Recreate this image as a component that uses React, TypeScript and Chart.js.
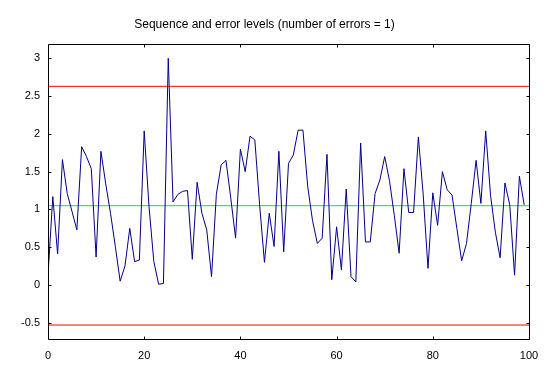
import React, { useEffect, useRef } from "react";
import { Chart, registerables } from "chart.js";

Chart.register(...registerables);

const TITLE = "Sequence and error levels (number of errors = 1)";

const SEQUENCE_VALUES = [
  0.13, 1.17, 0.41, 1.66, 1.21, 0.97, 0.73, 1.83, 1.7, 1.54,
  0.37, 1.77, 1.34, 0.95, 0.51, 0.05, 0.25, 0.75, 0.31, 0.33,
  2.04, 1.04, 0.31, 0.01, 0.02, 3.0, 1.1, 1.2, 1.24, 1.25,
  0.34, 1.36, 0.95, 0.73, 0.11, 1.2, 1.59, 1.65, 1.15, 0.62,
  1.8, 1.5, 1.97, 1.92, 1.06, 0.3, 0.95, 0.51, 1.77, 0.44,
  1.61, 1.72, 2.05, 2.05, 1.3, 0.85, 0.55, 0.62, 1.73, 0.07,
  0.77, 0.2, 1.27, 0.11, 0.04, 1.88, 0.57, 0.57, 1.21, 1.39,
  1.7, 1.38, 0.92, 0.42, 1.54, 0.96, 0.96, 1.96, 1.2, 0.22,
  1.22, 0.79, 1.5, 1.26, 1.19, 0.75, 0.32, 0.55, 1.08, 1.65,
  1.08, 2.04, 1.19, 0.7, 0.36, 1.35, 1.06, 0.13, 1.44, 1.06,
];

const CENTER_LEVEL = 1.05;
const UPPER_LEVEL = 2.63;
const LOWER_LEVEL = -0.53;

const X_RANGE = [0, 100];
const Y_RANGE = [-0.715, 3.185];
const X_TICKS = [0, 20, 40, 60, 80, 100];
const Y_TICKS = [-0.5, 0, 0.5, 1, 1.5, 2, 2.5, 3];

const FONT = "'Liberation Sans', Arial, sans-serif";

const framePlugin = {
  id: "frame",
  afterDatasetsDraw(chart: any) {
    const { ctx, chartArea, scales } = chart;
    const l = Math.round(chartArea.left) + 0.5;
    const r = Math.round(chartArea.right) + 0.5;
    const t = Math.round(chartArea.top) + 0.5;
    const b = Math.round(chartArea.bottom) + 0.5;
    const len = 3;
    ctx.save();
    ctx.strokeStyle = "#000";
    ctx.lineWidth = 1;
    ctx.beginPath();
    ctx.rect(l, t, r - l, b - t);
    for (const v of X_TICKS) {
      const px = Math.round(scales.x.getPixelForValue(v)) + 0.5;
      ctx.moveTo(px, b);
      ctx.lineTo(px, b - len);
      ctx.moveTo(px, t);
      ctx.lineTo(px, t + len);
    }
    for (const v of Y_TICKS) {
      const py = Math.round(scales.y.getPixelForValue(v)) + 0.5;
      ctx.moveTo(l, py);
      ctx.lineTo(l + len, py);
      ctx.moveTo(r, py);
      ctx.lineTo(r - len, py);
    }
    ctx.stroke();
    ctx.restore();
  },
};

function levelLine(value: number) {
  return [
    { x: X_RANGE[0], y: value },
    { x: X_RANGE[1], y: value },
  ];
}

export default function App() {
  const ref = useRef<HTMLCanvasElement | null>(null);

  useEffect(() => {
    document.body.style.margin = "0";
    const canvas = ref.current;
    if (!canvas) return;
    const chart = new Chart(canvas, {
      type: "line",
      data: {
        datasets: [
          {
            label: "sequence",
            data: SEQUENCE_VALUES.map((v, i) => ({ x: i, y: v })),
            borderColor: "#00008b",
            borderWidth: 1,
            pointRadius: 0,
            tension: 0,
            fill: false,
          },
          {
            label: "center",
            data: levelLine(CENTER_LEVEL),
            borderColor: "#22dd22",
            borderWidth: 1,
            pointRadius: 0,
            fill: false,
          },
          {
            label: "upper",
            data: levelLine(UPPER_LEVEL),
            borderColor: "#ff0000",
            borderWidth: 1,
            pointRadius: 0,
            fill: false,
          },
          {
            label: "lower",
            data: levelLine(LOWER_LEVEL),
            borderColor: "#ff0000",
            borderWidth: 1,
            pointRadius: 0,
            fill: false,
          },
        ],
      },
      plugins: [framePlugin],
      options: {
        responsive: false,
        animation: false,
        devicePixelRatio: 1,
        layout: { padding: { left: 0, right: 23, top: 0, bottom: 0 } },
        plugins: {
          legend: { display: false },
          tooltip: { enabled: false },
          title: {
            display: true,
            text: TITLE,
            color: "#000",
            font: { family: FONT, size: 12, weight: "normal", lineHeight: 1.2 },
            padding: { top: 17, bottom: 13 },
          },
        },
        scales: {
          x: {
            type: "linear",
            min: X_RANGE[0],
            max: X_RANGE[1],
            grid: { display: false, drawTicks: false },
            border: { display: false },
            afterBuildTicks: (axis: any) => {
              axis.ticks = X_TICKS.map((v) => ({ value: v }));
            },
            afterFit: (scale: any) => {
              scale.height = 30;
            },
            ticks: {
              color: "#000",
              font: { family: FONT, size: 11 },
              padding: 10,
              maxRotation: 0,
              autoSkip: false,
              callback: (v: any) => String(v),
            },
          },
          y: {
            type: "linear",
            min: Y_RANGE[0],
            max: Y_RANGE[1],
            grid: { display: false, drawTicks: false },
            border: { display: false },
            afterBuildTicks: (axis: any) => {
              axis.ticks = Y_TICKS.map((v) => ({ value: v }));
            },
            afterFit: (scale: any) => {
              scale.width = 48;
            },
            ticks: {
              color: "#000",
              font: { family: FONT, size: 11 },
              padding: 8,
              autoSkip: false,
              callback: (v: any) => String(v),
            },
          },
        },
      },
    });
    return () => chart.destroy();
  }, []);

  return <canvas ref={ref} width={552} height={369} style={{ display: "block" }} />;
}
